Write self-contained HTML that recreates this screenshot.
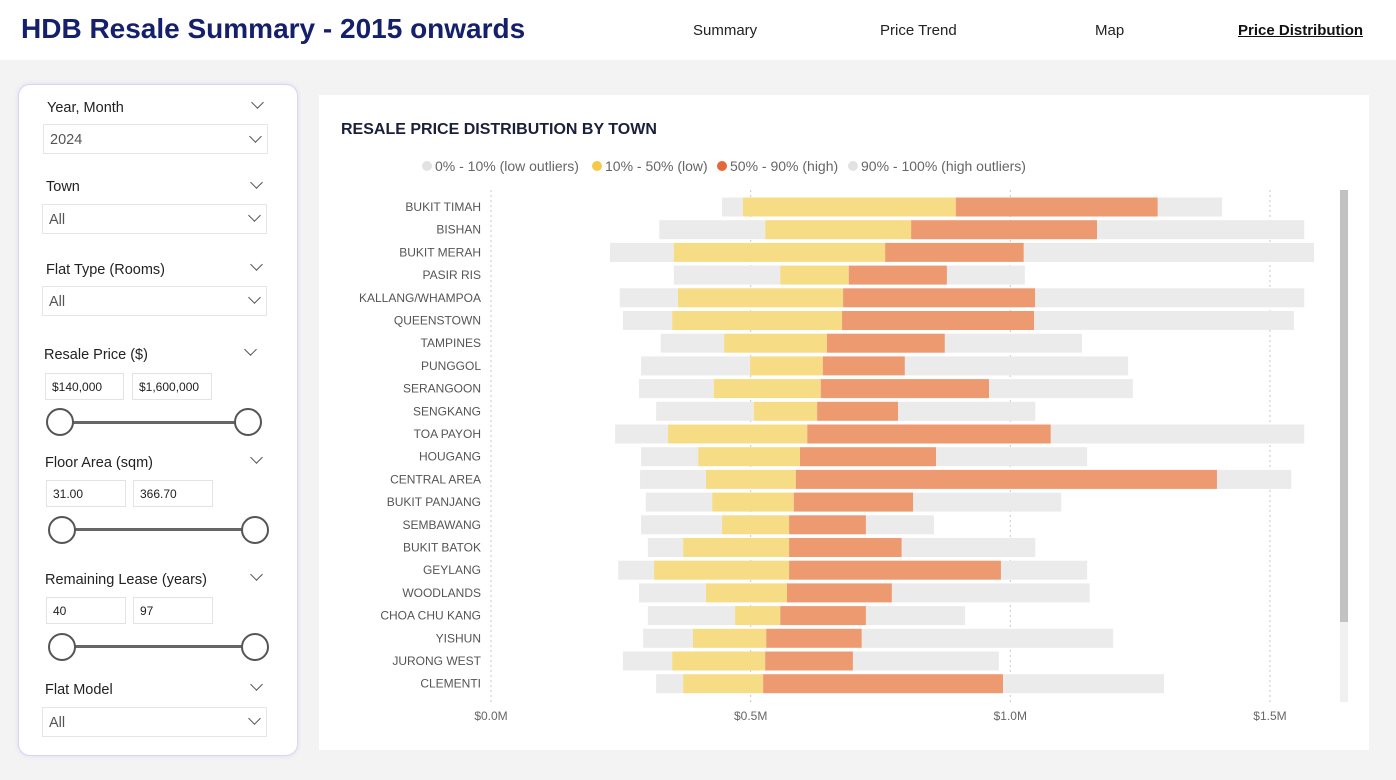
<!DOCTYPE html>
<html><head><meta charset="utf-8">
<style>
*{box-sizing:border-box;margin:0;padding:0}
body{width:1396px;height:780px;background:#f3f3f3;font-family:"Liberation Sans",sans-serif;position:relative;overflow:hidden}
.hdr{position:absolute;left:0;top:0;width:1396px;height:60px;background:#fff}
.title{position:absolute;left:21px;top:13px;font-size:28px;font-weight:bold;color:#14206b}
.nav{position:absolute;top:22px;font-size:15px;color:#222}
.panel{position:absolute;left:18px;top:84px;width:280px;height:672px;background:#fff;border:1px solid #d9d6f0;border-radius:12px;box-shadow:0 0 4px #dcdaf3}
.lbl{position:absolute;font-size:14.5px;color:#222}
.chev{position:absolute;width:9px;height:9px;border-right:1.3px solid #555;border-bottom:1.3px solid #555;transform:rotate(45deg)}
.dd{position:absolute;width:225px;height:30px;border:1px solid #e6e6e6;font-size:14.5px;color:#555;padding:7px 0 0 6px}
.inp{position:absolute;height:27px;border:1px solid #e3e3e3;font-size:12px;color:#222;padding:6px 0 0 6px}
.track{position:absolute;height:3px;background:#666}
.knob{position:absolute;width:28px;height:28px;border:2px solid #555;border-radius:50%;background:#fff}
.card{position:absolute;left:319px;top:95px;width:1050px;height:655px;background:#fff}
</style></head><body>
<div class="hdr">
<div class="title">HDB Resale Summary - 2015 onwards</div>
<div class="nav" style="left:693px">Summary</div>
<div class="nav" style="left:880px">Price Trend</div>
<div class="nav" style="left:1095px">Map</div>
<div class="nav" style="left:1238px;font-weight:bold;text-decoration:underline;color:#111">Price Distribution</div>
</div>

<div class="panel"></div>
<div class="lbl" style="left:47px;top:100px">Year, Month</div>
<div class="chev" style="left:253px;top:98px"></div>
<div class="dd" style="left:43px;top:124px">2024</div>
<div class="chev" style="left:251px;top:132px"></div>

<div class="lbl" style="left:46px;top:179px">Town</div>
<div class="chev" style="left:252px;top:178px"></div>
<div class="dd" style="left:42px;top:204px">All</div>
<div class="chev" style="left:250px;top:211px"></div>

<div class="lbl" style="left:46px;top:262px">Flat Type (Rooms)</div>
<div class="chev" style="left:252px;top:260px"></div>
<div class="dd" style="left:42px;top:286px">All</div>
<div class="chev" style="left:250px;top:293px"></div>

<div class="lbl" style="left:44px;top:347px">Resale Price ($)</div>
<div class="chev" style="left:246px;top:345px"></div>
<div class="inp" style="left:45px;top:373px;width:79px">$140,000</div>
<div class="inp" style="left:132px;top:373px;width:80px">$1,600,000</div>
<div class="track" style="left:60px;top:421px;width:188px"></div>
<div class="knob" style="left:46px;top:408px"></div>
<div class="knob" style="left:234px;top:408px"></div>

<div class="lbl" style="left:45px;top:455px">Floor Area (sqm)</div>
<div class="chev" style="left:252px;top:453px"></div>
<div class="inp" style="left:46px;top:480px;width:80px">31.00</div>
<div class="inp" style="left:133px;top:480px;width:80px">366.70</div>
<div class="track" style="left:62px;top:528px;width:193px"></div>
<div class="knob" style="left:48px;top:516px"></div>
<div class="knob" style="left:241px;top:516px"></div>

<div class="lbl" style="left:45px;top:572px">Remaining Lease (years)</div>
<div class="chev" style="left:252px;top:570px"></div>
<div class="inp" style="left:46px;top:597px;width:80px">40</div>
<div class="inp" style="left:133px;top:597px;width:80px">97</div>
<div class="track" style="left:62px;top:645px;width:193px"></div>
<div class="knob" style="left:48px;top:633px"></div>
<div class="knob" style="left:241px;top:633px"></div>

<div class="lbl" style="left:45px;top:682px">Flat Model</div>
<div class="chev" style="left:252px;top:680px"></div>
<div class="dd" style="left:42px;top:707px">All</div>
<div class="chev" style="left:250px;top:714px"></div>

<div class="card"></div>
<svg id="chart" width="1396" height="780" style="position:absolute;left:0;top:0"></svg>
<script>
const towns=["BUKIT TIMAH","BISHAN","BUKIT MERAH","PASIR RIS","KALLANG/WHAMPOA","QUEENSTOWN","TAMPINES","PUNGGOL","SERANGOON","SENGKANG","TOA PAYOH","HOUGANG","CENTRAL AREA","BUKIT PANJANG","SEMBAWANG","BUKIT BATOK","GEYLANG","WOODLANDS","CHOA CHU KANG","YISHUN","JURONG WEST","CLEMENTI"];
const p0=[0.445,0.324,0.229,0.352,0.248,0.254,0.327,0.289,0.285,0.318,0.239,0.289,0.287,0.298,0.289,0.302,0.245,0.285,0.302,0.293,0.254,0.318];
const p10=[0.485,0.528,0.352,0.557,0.360,0.349,0.449,0.499,0.429,0.506,0.341,0.399,0.414,0.426,0.445,0.370,0.314,0.414,0.470,0.389,0.349,0.370];
const p50=[0.895,0.809,0.759,0.689,0.678,0.676,0.647,0.639,0.635,0.628,0.609,0.595,0.587,0.583,0.574,0.574,0.574,0.570,0.557,0.530,0.528,0.524];
const p90=[1.284,1.167,1.026,0.878,1.048,1.046,0.874,0.797,0.959,0.784,1.078,0.857,1.398,0.813,0.722,0.791,0.982,0.772,0.722,0.714,0.697,0.986];
const p100=[1.408,1.566,1.585,1.028,1.566,1.546,1.138,1.227,1.236,1.048,1.566,1.148,1.541,1.098,0.853,1.048,1.148,1.153,0.913,1.198,0.978,1.296];
const ticks=[0,0.5,1.0,1.5];
const tickLabels=["$0.0M","$0.5M","$1.0M","$1.5M"];
const NS="http://www.w3.org/2000/svg";
const svg=document.getElementById('chart');
const X=v=>491+v*519.3;
const Y=i=>207+i*22.7;
function mk(t,a,txt){const e=document.createElementNS(NS,t);for(const k in a)e.setAttribute(k,a[k]);if(txt!==undefined)e.textContent=txt;svg.appendChild(e);return e;}
let e=mk('text',{x:341,y:134,'font-size':16,'font-weight':'bold',fill:'#1a1f3a','font-family':'Liberation Sans'},'RESALE PRICE DISTRIBUTION BY TOWN');

const leg=[["0% - 10% (low outliers)","#e2e2e2",427],["10% - 50% (low)","#f5c94a",597],["50% - 90% (high)","#e4683a",722],["90% - 100% (high outliers)","#e2e2e2",853]];
leg.forEach((l,i)=>{const c=mk('circle',{cx:l[2],cy:166,r:5,fill:l[1]});
const t=mk('text',{x:l[2]+8,y:171,'font-size':14,fill:'#666'},l[0]);});
ticks.forEach((v,i)=>{const g=mk('line',{x1:X(v),x2:X(v),y1:190,y2:702,stroke:'#c8c8c8','stroke-dasharray':'2,3'});
const t=mk('text',{x:X(v),y:720,'font-size':12,fill:'#666','text-anchor':'middle'},tickLabels[i]);});
towns.forEach((tn,i)=>{const y=Y(i);
const t=mk('text',{x:481,y:y+4,'font-size':12,fill:'#555','text-anchor':'end'},tn);
const segs=[[p0[i],p10[i],'#ebebeb'],[p10[i],p50[i],'#f7dc86'],[p50[i],p90[i],'#ed9a70'],[p90[i],p100[i],'#ebebeb']];
segs.forEach(s=>{const r=mk('rect',{x:X(s[0]),y:y-9.5,width:X(s[1])-X(s[0]),height:19,fill:s[2]});});
});
e=mk('rect',{x:1340,y:190,width:8,height:512,fill:'#f0f0f0'});
e=mk('rect',{x:1340,y:190,width:8,height:432,fill:'#c2c2c2'});
</script>
</body></html>
